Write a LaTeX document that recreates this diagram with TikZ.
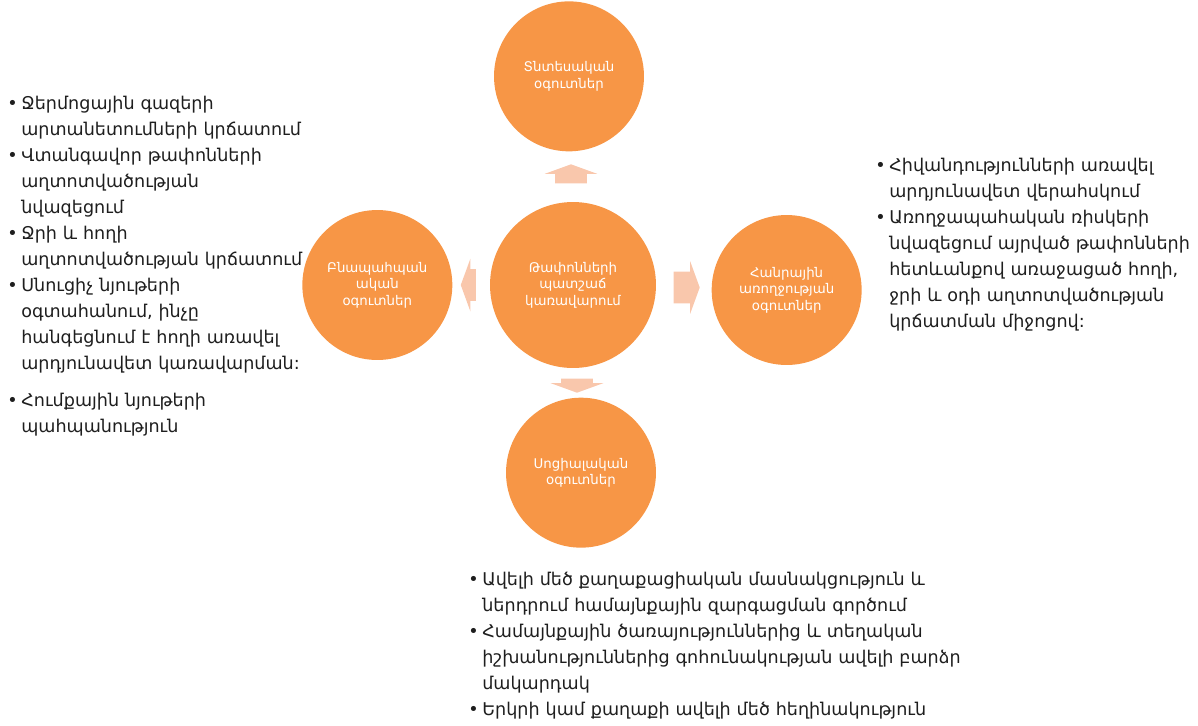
\documentclass[tikz,border=0pt]{standalone}
\usepackage{fontspec}
\setmainfont{DejaVu Sans}
\usepackage{xcolor}
\usetikzlibrary{shapes.arrows,positioning,calc}
\definecolor{wasteorange}{HTML}{F79646}
\definecolor{wastepeach}{HTML}{F9C7AC}
\definecolor{wastetext}{HTML}{1E1E1E}

% one bullet point with hanging indent
\newcommand{\benitem}[1]{\par\noindent\hangindent=0.28cm\hangafter=1%
  \makebox[0.28cm][l]{•}#1\par}

\begin{document}
\begin{tikzpicture}[
    x=0.02cm, y=-0.02cm,
    benefit/.style={circle, fill=wasteorange, text=white, minimum size=3cm,
                    inner sep=0pt, align=center,
                    font=\fontsize{7.6}{9.4}\selectfont},
    hubnode/.style={benefit, minimum size=3.32cm},
    flow/.style={single arrow, fill=wastepeach, draw=none, inner sep=0pt,
                 text width=0pt, text height=0.31cm, text depth=0.31cm,
                 minimum width=1.04cm, single arrow head extend=0.21cm,
                 single arrow tip angle=140},
    notes/.style={anchor=north west, inner sep=0pt, text=wastetext,
                  text width=8cm, font=\fontsize{10}{14.8}\selectfont}
]
\useasboundingbox (0,0) rectangle (1198,725);

% Circles
\node[hubnode] (hub) at (573,285) {Թափոնների\\պատշաճ\\կառավարում};
\node[benefit, above=1cm of hub, xshift=-0.08cm] (econ) {Տնտեսական\\օգուտներ};
\node[benefit, left=0.74cm of hub] (envir) {Բնապահպան\\ական\\օգուտներ};
\node[benefit, right=1.1cm of hub, yshift=-0.1cm] (health) {Հանրային\\առողջության\\օգուտներ};
\node[benefit, below=0.58cm of hub, xshift=0.16cm] (social) {Սոցիալական\\օգուտներ};

% Block arrows
\node[flow, minimum height=0.38cm, rotate=90] (toecon) at ($(hub.north)!0.5!(econ.south)$) {};
\node[flow, minimum height=0.3cm, rotate=180] (toenvir) at ($(hub.west)!0.5!(envir.east)$) {};
\node[flow, minimum height=0.52cm] (tohealth) at ($(hub.east)!0.5!(health.west)$) {};
\node[flow, minimum height=0.28cm, rotate=-90] (tosocial) at ($(hub.south)!0.5!(social.north)$) {};

% Lists
\node[notes] (envlist) at (7,83) {%
  \benitem{Ջերմոցային գազերի\newline արտանետումների կրճատում}
  \benitem{Վտանգավոր թափոնների\newline աղտոտվածության\newline նվազեցում}
  \benitem{Ջրի և հողի\newline աղտոտվածության կրճատում}
  \benitem{Սնուցիչ նյութերի\newline օգտահանում, ինչը\newline հանգեցնում է հողի առավել\newline արդյունավետ կառավարման:}
  \vspace{0.22cm}
  \benitem{Հումքային նյութերի\newline պահպանություն}};

\node[notes] (healthlist) at (875,145) {%
  \benitem{Հիվանդությունների առավել\newline արդյունավետ վերահսկում}
  \benitem{Առողջապահական ռիսկերի\newline նվազեցում այրված թափոնների\newline հետևանքով առաջացած հողի,\newline ջրի և օդի աղտոտվածության\newline կրճատման միջոցով:}};

\node[notes, text width=11cm] (sociallist) at (468,559) {%
  \benitem{Ավելի մեծ քաղաքացիական մասնակցություն և\newline ներդրում համայնքային զարգացման գործում}
  \benitem{Համայնքային ծառայություններից և տեղական\newline իշխանություններից գոհունակության ավելի բարձր\newline մակարդակ}
  \benitem{Երկրի կամ քաղաքի ավելի մեծ հեղինակություն}};

\end{tikzpicture}
\end{document}
